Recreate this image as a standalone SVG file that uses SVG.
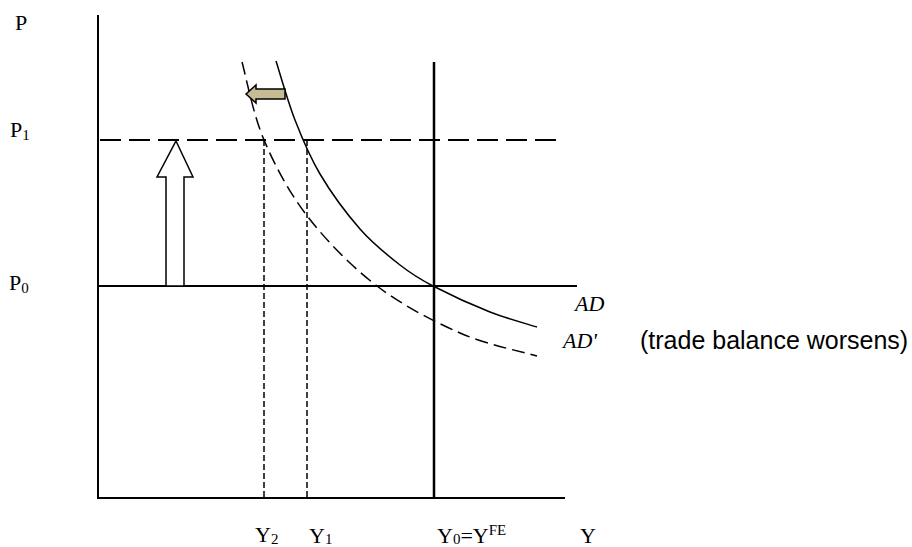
<svg xmlns="http://www.w3.org/2000/svg" width="912" height="547" viewBox="0 0 912 547">
<style>
.ax{stroke:#000;stroke-width:2;fill:none}
.ln{stroke:#000;stroke-width:1.5;fill:none}
.dl{stroke:#000;stroke-width:2;fill:none;stroke-dasharray:21 8}
.dv{stroke:#000;stroke-width:1.5;fill:none;stroke-dasharray:6 3}
.dc{stroke:#000;stroke-width:1.5;fill:none;stroke-dasharray:13 6}
.t{font-family:"Liberation Serif",serif;font-size:22px;fill:#000}
.s{font-size:15px}
.i{font-style:italic}
.a{font-family:"Liberation Sans",Arial,sans-serif;font-size:25px;fill:#000}
</style>
<rect width="912" height="547" fill="#fff"/>
<g id="connectors">
<path class="ax" d="M98,15V498H565"/>
<path class="ax" d="M98,286H577"/>
<path class="ax" d="M434,62V498" style="stroke-width:2.5"/>
<path class="dl" d="M100,140H558"/>
<path class="dv" d="M264,140V498"/>
<path class="dv" d="M307,140V498"/>
</g>
<g id="AD">
<path class="ln" d="M276,61C279.2,70.8 287.7,101.2 295,120C302.3,138.8 309.2,155.8 320,174C330.8,192.2 346.7,213.8 360,229C373.3,244.2 387.8,255.5 400,265C412.2,274.5 418,278.2 433,286C448,293.8 472.7,305.2 490,312C507.3,318.8 529.2,324.5 537,327"/>
<text class="t i" x="575" y="311">AD</text>
</g>
<g id="ADprime">
<path class="dc" d="M242,62C245.7,75 253,114.2 264,140C275,165.8 289.2,192.7 308,217C326.8,241.3 351.7,266.7 377,286C402.3,305.3 433.3,321.3 460,333C486.7,344.7 524.2,352.2 537,356"/>
<text class="t i" x="563" y="348">AD'</text>
<text class="a" x="640" y="349">(trade balance worsens)</text>
</g>
<g id="up-arrow">
<polygon points="176,141 193,177 184,177 184,286 166,286 166,177 157,177" fill="#fff" stroke="#000" stroke-width="1.5"/>
</g>
<g id="shift-arrow">
<polygon points="246,94 256,85 256,89 285,89 285,99 256,99 256,103" fill="#c6bb93" stroke="#000" stroke-width="1.5" stroke-linejoin="miter"/>
</g>
<g id="labels">
<text class="t" x="15" y="30">P</text>
<text class="t" x="10" y="137">P<tspan class="s" dy="3">1</tspan></text>
<text class="t" x="9" y="290">P<tspan class="s" dy="3">0</tspan></text>
<text class="t" x="255" y="542">Y<tspan class="s" dy="2">2</tspan></text>
<text class="t" x="309" y="543">Y<tspan class="s" dy="1">1</tspan></text>
<text class="t" x="437" y="543">Y<tspan class="s" dy="1">0</tspan><tspan dy="-1">=Y</tspan><tspan class="s" dy="-8">FE</tspan></text>
<text class="t" x="580" y="543">Y</text>
</g>
</svg>
